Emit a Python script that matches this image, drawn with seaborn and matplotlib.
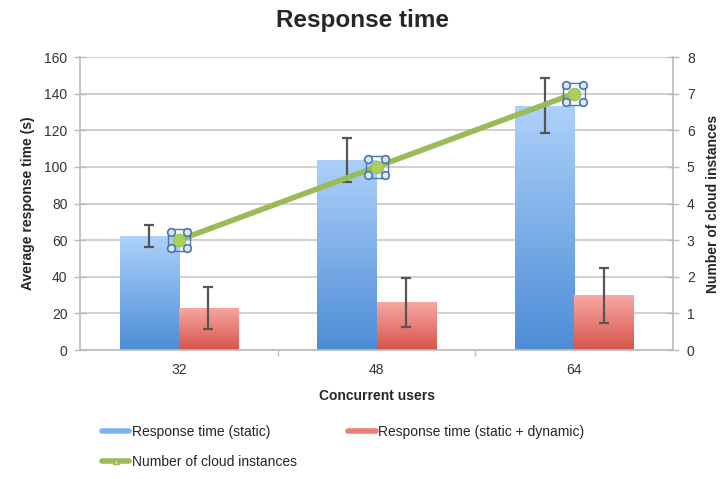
import numpy as np
import pandas as pd
import matplotlib
matplotlib.use("Agg")
import matplotlib.pyplot as plt
import matplotlib.transforms as mtransforms
from matplotlib.lines import Line2D
import seaborn as sns

# --- data -------------------------------------------------------------
users = ["32", "48", "64"]
static_mean = [62, 104, 133.5]
static_err = [6, 12, 15]
dynamic_mean = [23, 26, 30]
dynamic_err = [11.5, 13.5, 15]
instances = [3, 5, 7]

series_static = "Response time (static)"
series_dynamic = "Response time (static + dynamic)"
series_line = "Number of cloud instances"

df = pd.DataFrame({
    "users": users * 2,
    "series": [series_static] * 3 + [series_dynamic] * 3,
    "value": static_mean + dynamic_mean,
    "err": static_err + dynamic_err,
})

sns.set_theme(style="white")
plt.rcParams["font.family"] = ["Liberation Sans", "DejaVu Sans"]

fig = plt.figure(figsize=(7.26, 4.79), dpi=100)
ax = fig.add_axes([0.1102, 0.2693, 0.8168, 0.6117])

palette = {series_static: "#6fa6e6", series_dynamic: "#ea7e77"}
sns.barplot(data=df, x="users", y="value", hue="series", palette=palette,
            width=0.6, ax=ax, legend=False, errorbar=None,
            order=users, hue_order=[series_static, series_dynamic])

gradients = {
    series_static: ((0.68, 0.82, 0.98), (0.30, 0.55, 0.84)),
    series_dynamic: ((0.97, 0.66, 0.64), (0.84, 0.33, 0.29)),
}

bars = sorted(ax.patches, key=lambda p: p.get_x())
hue_cycle = [series_static, series_dynamic]
for i, p in enumerate(bars):
    cat = i // 2
    s = hue_cycle[i % 2]
    x0, w, h = p.get_x(), p.get_width(), p.get_height()
    top, bot = gradients[s]
    grad = np.linspace(0, 1, 256)[:, None]
    img = np.zeros((256, 2, 3))
    for c in range(3):
        img[:, :, c] = (top[c] + (bot[c] - top[c]) * grad)
    im = ax.imshow(img, extent=[x0, x0 + w, 0, h], origin="upper",
                   aspect="auto", zorder=2, interpolation="bilinear")
    im.set_clip_path(p)
    p.set_facecolor("none")
    p.set_edgecolor("none")
    sub = df[(df.series == s) & (df.users == users[cat])].iloc[0]
    ax.errorbar(x0 + w / 2, sub.value, yerr=sub.err, fmt="none",
                ecolor="#555555", elinewidth=1.6, capsize=3.5, capthick=1.6,
                zorder=4)

ax.set_xlim(-0.5, 2.5)
ax.set_ylim(0, 160)
ax.yaxis.grid(True, color="#c8c8c8", linewidth=1.2)
ax.set_axisbelow(True)
ax.set_xlabel("Concurrent users", fontsize=10, fontweight="bold", labelpad=9)
ax.set_ylabel("Average response time (s)", fontsize=10, fontweight="bold", labelpad=7)
ax.set_yticks(np.arange(0, 161, 20))
ax.tick_params(axis="y", labelsize=10, colors="#bbbbbb", labelcolor="#333333",
               length=8, width=1, left=True, direction="inout", pad=5)
ax.set_xticks([0, 1, 2])
ax.set_xticklabels(users)
ax.tick_params(axis="x", labelsize=10, labelcolor="#333333", length=0, pad=9)
# small separators between categories
ax.set_xticks([0.5, 1.5], minor=True)
ax.tick_params(axis="x", which="minor", bottom=True, length=4, width=1,
               color="#bbbbbb", direction="out")
for side in ["left", "bottom", "right"]:
    ax.spines[side].set_color("#bbbbbb")
    ax.spines[side].set_linewidth(1.2)
ax.spines["top"].set_visible(False)

# --- secondary axis: instances --------------------------------------
ax2 = ax.twinx()
xs = [0, 1, 2]
sns.lineplot(x=xs, y=instances, ax=ax2, color="#9bbb59", linewidth=4,
             marker="o", markersize=9, markerfacecolor="#a9d05a",
             markeredgecolor="#9bbb59", zorder=5)
# selection handles around each point
for dx, dy in [(-6, -6), (-6, 6), (6, -6), (6, 6)]:
    tr = mtransforms.offset_copy(ax2.transData, fig=fig, x=dx, y=dy, units="points")
    ax2.plot(xs, instances, linestyle="none", marker="o", markersize=5.5,
             markerfacecolor="#dbe7f5", markeredgecolor="#4a78a8",
             markeredgewidth=1.2, transform=tr, zorder=6)
ax2.plot(xs, instances, linestyle="none", marker="s", markersize=16,
         markerfacecolor="none", markeredgecolor="#4a78a8",
         markeredgewidth=1.0, zorder=5.5)

ax2.set_ylim(0, 8)
ax2.set_yticks(range(0, 9))
ax2.set_ylabel("Number of cloud instances", fontsize=10, fontweight="bold", labelpad=8)
ax2.tick_params(axis="y", labelsize=10, colors="#bbbbbb", labelcolor="#333333",
                length=8, width=1, direction="inout", right=True, pad=6)
for side in ["left", "bottom", "right", "top"]:
    ax2.spines[side].set_visible(False)
ax2.grid(False)

fig.suptitle("Response time", fontsize=17.5, fontweight="bold", y=0.982)

handles = [
    Line2D([], [], color="#7eb2ee", linewidth=4),
    Line2D([], [], color="#9bbb59", linewidth=4, marker="^", markersize=5,
           markerfacecolor="#c9e08f", markeredgecolor="#9bbb59"),
    Line2D([], [], color="#ef7c76", linewidth=4),
]
labels = [series_static, series_line, series_dynamic]
fig.legend(handles, labels, loc="upper left", bbox_to_anchor=(0.14, 0.112),
           ncol=2, frameon=False, fontsize=10, handlelength=2.0,
           handletextpad=0.15, columnspacing=3.7, labelspacing=1.15,
           borderaxespad=0, borderpad=0)

fig.savefig("out.png", dpi=100)
